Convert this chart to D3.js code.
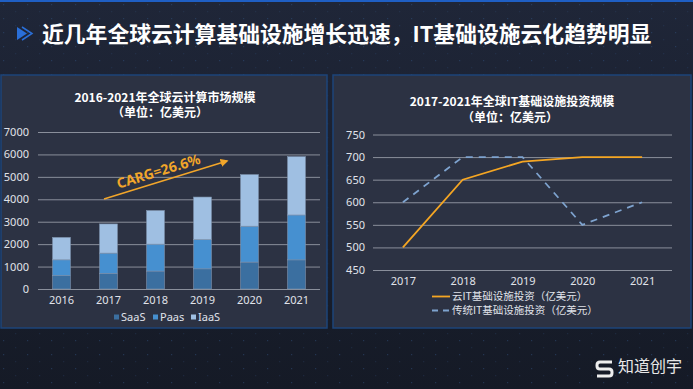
<!DOCTYPE html>
<html lang="zh">
<head>
<meta charset="UTF-8">
<script src="https://cdn.jsdelivr.net/npm/d3@7"></script>
<style>
  body { margin: 0; background: #1a1f2d; }
  svg { display: block; font-family: "Noto Sans CJK SC", "Noto Sans", sans-serif; }
</style>
</head>
<body>
<div id="chart"></div>
<script>
// left chart: cloud market size (亿美元)
const years1 = ["2016", "2017", "2018", "2019", "2020", "2021"]
const saas = [600, 700, 800, 900, 1200, 1300]
const paas = [700, 900, 1200, 1300, 1600, 2000]
const iaas = [1000, 1300, 1500, 1900, 2300, 2600]
const seriesNames = ["SaaS", "Paas", "IaaS"]
const yTicks1 = [0, 1000, 2000, 3000, 4000, 5000, 6000, 7000]

// right chart: IT infrastructure investment
const years2 = ["2017", "2018", "2019", "2020", "2021"]
const cloudIT = [500, 650, 690, 700, 700]
const tradIT = [600, 700, 700, 550, 600]
const yTicks2 = [450, 500, 550, 600, 650, 700, 750]

const W = 693, H = 389
const svg = d3.select("#chart").append("svg").attr("width", W).attr("height", H)

// background
const defs = svg.append("defs")
const bg = defs.append("linearGradient").attr("id", "bg").attr("x1", 0).attr("y1", 0).attr("x2", 0).attr("y2", 1)
bg.append("stop").attr("offset", "0%").attr("stop-color", "#1f2638")
bg.append("stop").attr("offset", "100%").attr("stop-color", "#151a26")
const dots = defs.append("pattern").attr("id", "dots").attr("width", 24).attr("height", 14).attr("patternUnits", "userSpaceOnUse")
dots.append("rect").attr("x", 3).attr("y", 4).attr("width", 1.2).attr("height", 1.2).attr("fill", "#2f4f7a").attr("opacity", 0.5)
dots.append("rect").attr("x", 15).attr("y", 11).attr("width", 1.2).attr("height", 1.2).attr("fill", "#2a4670").attr("opacity", 0.3)

svg.append("rect").attr("width", W).attr("height", H).attr("fill", "url(#bg)")
svg.append("rect").attr("width", W).attr("height", H).attr("fill", "url(#dots)")
svg.append("rect").attr("width", W).attr("height", 2).attr("fill", "#1f5fc4")

// header
svg.append("path").attr("d", "M17,27 L27,33.5 L17,40 Z").attr("fill", "#2a6fd8")
svg.append("path").attr("d", "M22,27 L32,33.5 L22,40").attr("fill", "none").attr("stroke", "#2a6fd8").attr("stroke-width", 1.5)
svg.append("text").attr("x", 42).attr("y", 42)
  .attr("fill", "#ffffff").attr("font-size", 21.8).attr("font-weight", "bold")
  .text("近几年全球云计算基础设施增长迅速，IT基础设施云化趋势明显")

// panels
const panels = [{ x: 1, w: 326 }, { x: 333, w: 358 }]
panels.forEach(p => {
  svg.append("rect").attr("x", p.x).attr("y", 75).attr("width", p.w).attr("height", 253)
    .attr("fill", "#2c3243").attr("stroke", "#1d4479").attr("stroke-width", 1.5)
})

// ---------- left: stacked bars ----------
const g1 = svg.append("g")
const x1 = d3.scaleBand().domain(years1).range([38, 320]).paddingInner(0.62).paddingOuter(0.31)
const y1 = d3.scaleLinear().domain([0, 7000]).range([289, 132])

g1.append("text").attr("x", 165).attr("y", 101.5).attr("text-anchor", "middle")
  .attr("fill", "#fff").attr("font-size", 12).attr("font-weight", "bold").text("2016-2021年全球云计算市场规模")
g1.append("text").attr("x", 160).attr("y", 117).attr("text-anchor", "middle")
  .attr("fill", "#fff").attr("font-size", 12).attr("font-weight", "bold").text("（单位：亿美元）")

const yAxis1 = g1.append("g").attr("transform", "translate(38,0)")
  .call(d3.axisLeft(y1).tickValues(yTicks1).tickSize(-282).tickPadding(9).tickFormat(d3.format("d")))
yAxis1.select(".domain").remove()
yAxis1.selectAll("line").attr("stroke", "#8a8f9b").attr("stroke-width", 1)
yAxis1.selectAll("text").attr("fill", "#e0e3ea").attr("font-size", 11).attr("font-family", "Noto Sans, sans-serif")

const stackData = years1.map((y, i) => ({ year: y, SaaS: saas[i], Paas: paas[i], IaaS: iaas[i] }))
const stack = d3.stack().keys(seriesNames)(stackData)
const colors1 = { SaaS: "#3b6fa0", Paas: "#4690d0", IaaS: "#9fbfe2" }

g1.selectAll("g.layer").data(stack).join("g").attr("class", "layer")
  .attr("fill", d => colors1[d.key])
  .selectAll("rect").data(d => d).join("rect")
  .attr("x", d => x1(d.data.year))
  .attr("y", d => y1(d[1]))
  .attr("width", x1.bandwidth())
  .attr("height", d => y1(d[0]) - y1(d[1]))
  .attr("stroke", "#7f93ad").attr("stroke-width", 0.6)

const xAxis1 = g1.append("g").attr("transform", "translate(0,289)")
  .call(d3.axisBottom(x1).tickSize(0).tickPadding(7))
xAxis1.select(".domain").remove()
xAxis1.selectAll("text").attr("fill", "#e0e3ea").attr("font-size", 11).attr("font-family", "Noto Sans, sans-serif")

// CARG arrow
defs.append("marker").attr("id", "arr").attr("viewBox", "0 0 10 10").attr("refX", 8).attr("refY", 5)
  .attr("markerWidth", 5).attr("markerHeight", 5).attr("orient", "auto")
  .append("path").attr("d", "M0,0 L10,5 L0,10 Z").attr("fill", "#f2a62a")
g1.append("line").attr("x1", 104).attr("y1", 199).attr("x2", 227).attr("y2", 161)
  .attr("stroke", "#f2a62a").attr("stroke-width", 1.6).attr("marker-end", "url(#arr)")
g1.append("text").attr("transform", "translate(160,176) rotate(-17)").attr("text-anchor", "middle")
  .attr("fill", "#f2a62a").attr("font-size", 14).attr("font-weight", "bold")
  .attr("font-family", "Noto Sans, sans-serif").text("CARG=26.6%")

// legend
const leg1 = g1.append("g").attr("transform", "translate(114,317)")
const legX1 = [0, 39, 77]
seriesNames.forEach((n, i) => {
  const lg = leg1.append("g").attr("transform", `translate(${legX1[i]},0)`)
  lg.append("rect").attr("x", 0).attr("y", -2.5).attr("width", 5).attr("height", 5).attr("fill", colors1[n])
  lg.append("text").attr("x", 7).attr("y", 4).attr("fill", "#e0e3ea").attr("font-size", 11)
    .attr("font-family", "Noto Sans, sans-serif").text(n)
})

// ---------- right: line chart ----------
const g2 = svg.append("g")
const x2 = d3.scalePoint().domain(years2).range([373, 672]).padding(0.5)
const y2 = d3.scaleLinear().domain([450, 750]).range([270, 134.5])

g2.append("text").attr("x", 512).attr("y", 105.5).attr("text-anchor", "middle")
  .attr("fill", "#fff").attr("font-size", 12).attr("font-weight", "bold").text("2017-2021年全球IT基础设施投资规模")
g2.append("text").attr("x", 510).attr("y", 121.5).attr("text-anchor", "middle")
  .attr("fill", "#fff").attr("font-size", 12).attr("font-weight", "bold").text("（单位：亿美元）")

const yAxis2 = g2.append("g").attr("transform", "translate(373,0)")
  .call(d3.axisLeft(y2).tickValues(yTicks2).tickSize(-299).tickPadding(8))
yAxis2.select(".domain").remove()
yAxis2.selectAll("line").attr("stroke", "#8a8f9b").attr("stroke-width", 1)
yAxis2.selectAll("text").attr("fill", "#e0e3ea").attr("font-size", 11).attr("font-family", "Noto Sans, sans-serif")

const xAxis2 = g2.append("g").attr("transform", "translate(0,270)")
  .call(d3.axisBottom(x2).tickSize(0).tickPadding(7))
xAxis2.select(".domain").remove()
xAxis2.selectAll("text").attr("fill", "#e0e3ea").attr("font-size", 11).attr("font-family", "Noto Sans, sans-serif")

const line2 = d3.line().x((d, i) => x2(years2[i])).y(d => y2(d))
g2.append("path").datum(tradIT).attr("d", line2).attr("fill", "none")
  .attr("stroke", "#7ea3cf").attr("stroke-width", 1.8).attr("stroke-dasharray", "7,6")
g2.append("path").datum(cloudIT).attr("d", line2).attr("fill", "none")
  .attr("stroke", "#f5a623").attr("stroke-width", 1.8)

const legItems2 = [
  { name: "云IT基础设施投资（亿美元）", color: "#f5a623", dash: null },
  { name: "传统IT基础设施投资（亿美元）", color: "#7ea3cf", dash: "6,5" }
]
legItems2.forEach((d, i) => {
  const lg = g2.append("g").attr("transform", `translate(432,${296.5 + i * 14})`)
  lg.append("line").attr("x1", 0).attr("x2", 18).attr("stroke", d.color).attr("stroke-width", 1.8)
    .attr("stroke-dasharray", d.dash)
  lg.append("text").attr("x", 20).attr("y", 3.8).attr("fill", "#e0e3ea").attr("font-size", 10.5).text(d.name)
})

// logo
const logo = svg.append("g").attr("transform", "translate(595,359)")
logo.append("path").attr("d", "M17,3 L5,3 Q2,3 2,6 L2,7 Q2,10 5,10 L14,10 Q17,10 17,13 L17,14 Q17,17 14,17 L2,17")
  .attr("fill", "none").attr("stroke", "#eeeeee").attr("stroke-width", 3)
svg.append("text").attr("x", 618).attr("y", 372).attr("fill", "#e8e8e8").attr("font-size", 16)
  .text("知道创宇")
</script>
</body>
</html>
